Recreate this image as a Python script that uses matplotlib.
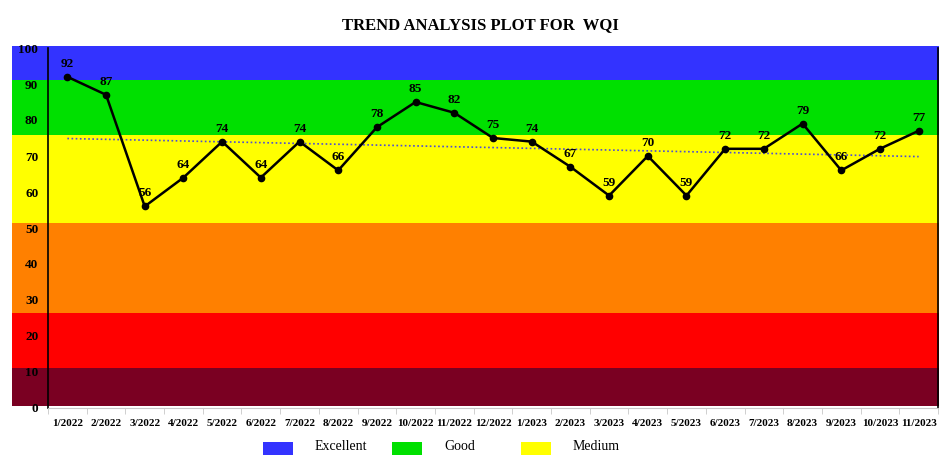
import numpy as np
import matplotlib
matplotlib.use("Agg")
import matplotlib.pyplot as plt
from matplotlib.patches import Rectangle

# ---- data ----
months = ["1/2022", "2/2022", "3/2022", "4/2022", "5/2022", "6/2022", "7/2022",
          "8/2022", "9/2022", "10/2022", "11/2022", "12/2022", "1/2023", "2/2023",
          "3/2023", "4/2023", "5/2023", "6/2023", "7/2023", "8/2023", "9/2023",
          "10/2023", "11/2023"]
wqi = [92, 87, 56, 64, 74, 64, 74, 66, 78, 85, 82, 75, 74, 67, 59, 70, 59, 72,
       72, 79, 66, 72, 77]
band_edges = [0.5, 11.0, 26.4, 51.5, 75.8, 91.0, 100.5]
band_colors = ["#7a0022", "#ff0000", "#ff8000", "#ffff00", "#00e000", "#3333ff"]
legend_labels = ["Excellent", "Good", "Medium"]
legend_colors = ["#3333ff", "#00e000", "#ffff00"]
yticks = list(range(0, 101, 10))

plt.rcParams['font.family'] = ['Liberation Serif', 'DejaVu Serif']

W, H = 939, 455
fig = plt.figure(figsize=(W / 100, H / 100), dpi=100)

y0_px, y100_px = 408, 48
bottom = 1 - y0_px / H
height = (y0_px - y100_px) / H

# background bands axes (wider than plot)
bg = fig.add_axes([12 / W, bottom, (W - 12) / W, height])
bg.set_ylim(0, 100)
bg.set_xlim(0, 1)
for i, c in enumerate(band_colors):
    bg.axhspan(band_edges[i], band_edges[i + 1], color=c, lw=0, clip_on=False)
bg.axis("off")

ax = fig.add_axes([48 / W, bottom, (938 - 48) / W, height])
ax.patch.set_alpha(0)
n = len(wqi)
x = np.arange(n)
ax.set_xlim(-0.5, n - 0.5)
ax.set_ylim(0, 100)

# trend line
coef = np.polyfit(x, wqi, 1)
ax.plot(x, np.polyval(coef, x), ls=(0, (1, 1.5)), color="#4a4adc", lw=1.2, zorder=2)

ax.plot(x, wqi, color="black", lw=1.8, marker="o", ms=4.5, mfc="black",
        mec="black", zorder=3)
for xi, v in zip(x, wqi):
    ax.annotate(str(v), (xi, v), xytext=(0, 5), textcoords="offset points",
                ha="center", va="bottom", fontsize=9.5, fontweight="bold")

ax.set_xticks(x)
ax.set_xticklabels(months, fontsize=8, fontweight="bold")
ax.set_xticks(np.arange(-0.5, n, 1), minor=True)
ax.tick_params(axis="x", which="major", length=0, pad=8)
ax.tick_params(axis="x", which="minor", length=4, color="#c8c8c8")
ax.set_yticks(yticks)
ax.set_yticklabels([str(t) for t in yticks], fontsize=9.5, fontweight="bold")
ax.tick_params(axis="y", length=0, pad=7)

ax.spines["top"].set_visible(False)
ax.spines["bottom"].set_color("#c8c8c8")
ax.spines["left"].set_color("black")
ax.spines["right"].set_color("black")
ax.spines["left"].set_linewidth(1.2)
ax.spines["right"].set_linewidth(1.2)

fig.text(480 / W, 1 - 25 / H, "TREND ANALYSIS PLOT FOR  WQI", ha="center",
         va="center", fontsize=12, fontweight="bold")

# legend (manual, equal-width entries)
for i, (lab, c) in enumerate(zip(legend_labels, legend_colors)):
    px = 263 + 129 * i
    fig.patches.append(Rectangle((px / W, 1 - 455 / H), 30 / W, 13 / H,
                                 transform=fig.transFigure, color=c, lw=0))
    fig.text((px + 52) / W, 1 - 447 / H, lab, ha="left", va="center",
             fontsize=10)

fig.savefig("out.png", dpi=100)
